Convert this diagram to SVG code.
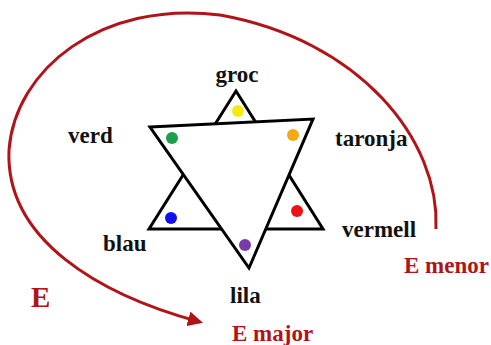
<svg xmlns="http://www.w3.org/2000/svg" width="491" height="345" viewBox="0 0 491 345">
<defs>
<style>
.lbl{font-family:"Liberation Serif","Times New Roman",serif;font-weight:bold;font-size:23px;fill:#111}
.red{font-family:"Liberation Serif","Times New Roman",serif;font-weight:bold;font-size:23px;fill:#b01418}
.tri{stroke:#000;stroke-width:3;stroke-linejoin:miter}
</style>
<marker id="ah" viewBox="0 0 10 10" refX="8" refY="5" markerWidth="5" markerHeight="5" orient="auto" markerUnits="strokeWidth">
<path d="M0,0 L10,5 L0,10 Z" fill="#b01418"/>
</marker>
</defs>
<rect width="491" height="345" fill="#fff"/>
<g id="connectors">
<path d="M436,229 C440,140 360,40 220,15 C100,0 15,70 9,150 C5,240 100,295 200,322" fill="none" stroke="#b01418" stroke-width="3" marker-end="url(#ah)"/>
</g>
<g id="star">
<polygon class="tri" points="236,91 149,229 323,229" fill="#fff"/>
<polygon class="tri" points="150,127 313,119 249,268" fill="#fff"/>
</g>
<g id="groc"><circle cx="238" cy="111" r="6" fill="#f5e914"/><text class="lbl" x="237" y="82" text-anchor="middle">groc</text></g>
<g id="verd"><circle cx="172" cy="138" r="6" fill="#1aa048"/><text class="lbl" x="68" y="143">verd</text></g>
<g id="taronja"><circle cx="293" cy="135" r="6" fill="#f5aa14"/><text class="lbl" x="335" y="146">taronja</text></g>
<g id="vermell"><circle cx="297" cy="211" r="6" fill="#ee1111"/><text class="lbl" x="342" y="237">vermell</text></g>
<g id="blau"><circle cx="171" cy="218" r="6" fill="#1111ee"/><text class="lbl" x="103" y="251">blau</text></g>
<g id="lila"><circle cx="245" cy="245" r="6" fill="#7a3aa8"/><text class="lbl" x="230" y="303">lila</text></g>
<g id="E"><text class="red" x="31" y="307" style="font-size:29px">E</text></g>
<g id="Emenor"><text class="red" x="404" y="273">E menor</text></g>
<g id="Emajor"><text class="red" x="232" y="341">E major</text></g>
</svg>
